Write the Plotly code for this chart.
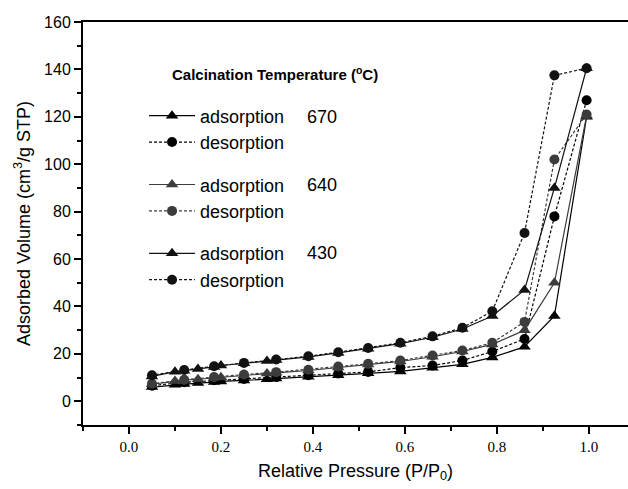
import plotly.graph_objects as go

# Relative pressure points (P/P0)
p_ads = [0.05, 0.10, 0.12, 0.15, 0.185, 0.20, 0.25, 0.30, 0.32, 0.39, 0.455,
         0.52, 0.59, 0.66, 0.725, 0.79, 0.86, 0.925, 0.995]
p_des = [0.995, 0.925, 0.86, 0.79, 0.725, 0.66, 0.59, 0.52, 0.455, 0.39, 0.32,
         0.25, 0.185, 0.12, 0.05]

# Adsorbed volume (cm3/g STP) per calcination temperature
ads_670 = [6.0, 7.0, 7.3, 7.7, 8.1, 8.4, 8.8, 9.3, 9.6, 10.4, 11.0, 11.8, 12.6,
           14.2, 15.6, 18.5, 23.0, 36.0, 120.0]
des_670 = [127.0, 78.0, 26.3, 21.0, 17.2, 15.1, 14.2, 12.4, 11.7, 11.0, 10.2,
           9.4, 8.9, 8.0, 6.6]

ads_640 = [7.2, 8.6, 8.9, 9.3, 9.9, 10.1, 11.0, 11.7, 12.0, 13.0, 14.3, 15.5,
           16.8, 18.8, 21.0, 24.0, 30.0, 50.0, 120.5]
des_640 = [121.0, 102.0, 33.5, 24.7, 21.4, 19.3, 17.2, 15.8, 14.7, 13.3, 12.3,
           11.3, 10.2, 9.1, 7.4]

ads_430 = [10.5, 12.5, 12.9, 13.6, 14.5, 15.1, 16.0, 17.0, 17.4, 18.7, 20.4,
           22.2, 24.3, 27.0, 30.5, 36.0, 47.0, 90.0, 140.5]
des_430 = [140.5, 137.5, 71.0, 38.0, 31.0, 27.4, 24.7, 22.5, 20.7, 19.0, 17.6,
           16.2, 14.8, 13.2, 11.0]

temps = ["670", "640", "430"]
colors = {"670": "#000000", "640": "#3c3c3c", "430": "#121212"}
series = {
    "670": (ads_670, des_670),
    "640": (ads_640, des_640),
    "430": (ads_430, des_430),
}

fig = go.Figure()
for rank, t in enumerate(temps):
    ads, des = series[t]
    c = colors[t]
    fig.add_trace(go.Scatter(
        x=p_ads, y=ads, mode="lines+markers", name="adsorption",
        legendgroup=t, legendrank=rank * 2 + 1,
        line=dict(color=c, width=1.2),
        marker=dict(symbol="triangle-up", size=11, color=c),
    ))
    fig.add_trace(go.Scatter(
        x=p_des, y=des, mode="lines+markers", name="desorption",
        legendgroup=t, legendrank=rank * 2 + 2,
        line=dict(color=c, width=1.2, dash="3px,2px"),
        marker=dict(symbol="circle", size=10, color=c),
    ))

# Temperature labels next to each legend group, and the legend heading
annotations = [
    dict(text="<b>Calcination Temperature (<sup>o</sup>C)</b>",
         x=0.16, y=0.873, xref="paper", yref="paper", xanchor="left",
         yanchor="middle", showarrow=False,
         font=dict(family="Liberation Sans, Arial", size=15, color="black")),
]
for t, yy in zip(temps, [0.764, 0.596, 0.427]):
    annotations.append(dict(
        text=t, x=0.407, y=yy, xref="paper", yref="paper", xanchor="left",
        yanchor="middle", showarrow=False,
        font=dict(family="Liberation Sans, Arial", size=18, color="black")))

fig.update_layout(
    width=628, height=489,
    margin=dict(l=83, r=0, t=22, b=64),
    paper_bgcolor="white", plot_bgcolor="white",
    annotations=annotations,
    showlegend=True,
    legend=dict(
        x=0.112, y=0.8127, xanchor="left", yanchor="top",
        bgcolor="rgba(0,0,0,0)", borderwidth=0, itemwidth=46,
        traceorder="grouped", tracegroupgap=16,
        font=dict(family="Liberation Sans, Arial", size=18, color="black"),
    ),
    xaxis=dict(
        range=[-0.1, 1.085], showgrid=False, zeroline=False,
        showline=True, linecolor="black", linewidth=2, mirror=True,
        ticks="outside", ticklen=7, tickwidth=1.5, tickcolor="black",
        tick0=0, dtick=0.2, tickformat=".1f",
        minor=dict(ticks="outside", ticklen=4, tickwidth=1.5,
                   tickcolor="black", dtick=0.1, tick0=0),
        tickfont=dict(family="Liberation Serif, Times New Roman", size=15,
                      color="black"),
        title=dict(text="Relative Pressure (P/P<sub>0</sub>)", standoff=10,
                   font=dict(family="Liberation Sans, Arial", size=18,
                             color="black")),
    ),
    yaxis=dict(
        range=[-10, 160], showgrid=False, zeroline=False,
        showline=True, linecolor="black", linewidth=2, mirror=False,
        ticks="outside", ticklen=7, tickwidth=1.5, tickcolor="black",
        tick0=0, dtick=20,
        minor=dict(ticks="outside", ticklen=4, tickwidth=1.5,
                   tickcolor="black", dtick=10, tick0=0),
        tickfont=dict(family="Liberation Sans, Arial", size=16, color="black"),
        title=dict(text="Adsorbed Volume (cm<sup>3</sup>/g STP)", standoff=9,
                   font=dict(family="Liberation Sans, Arial", size=18,
                             color="black")),
    ),
)

fig.write_html("out.html")
